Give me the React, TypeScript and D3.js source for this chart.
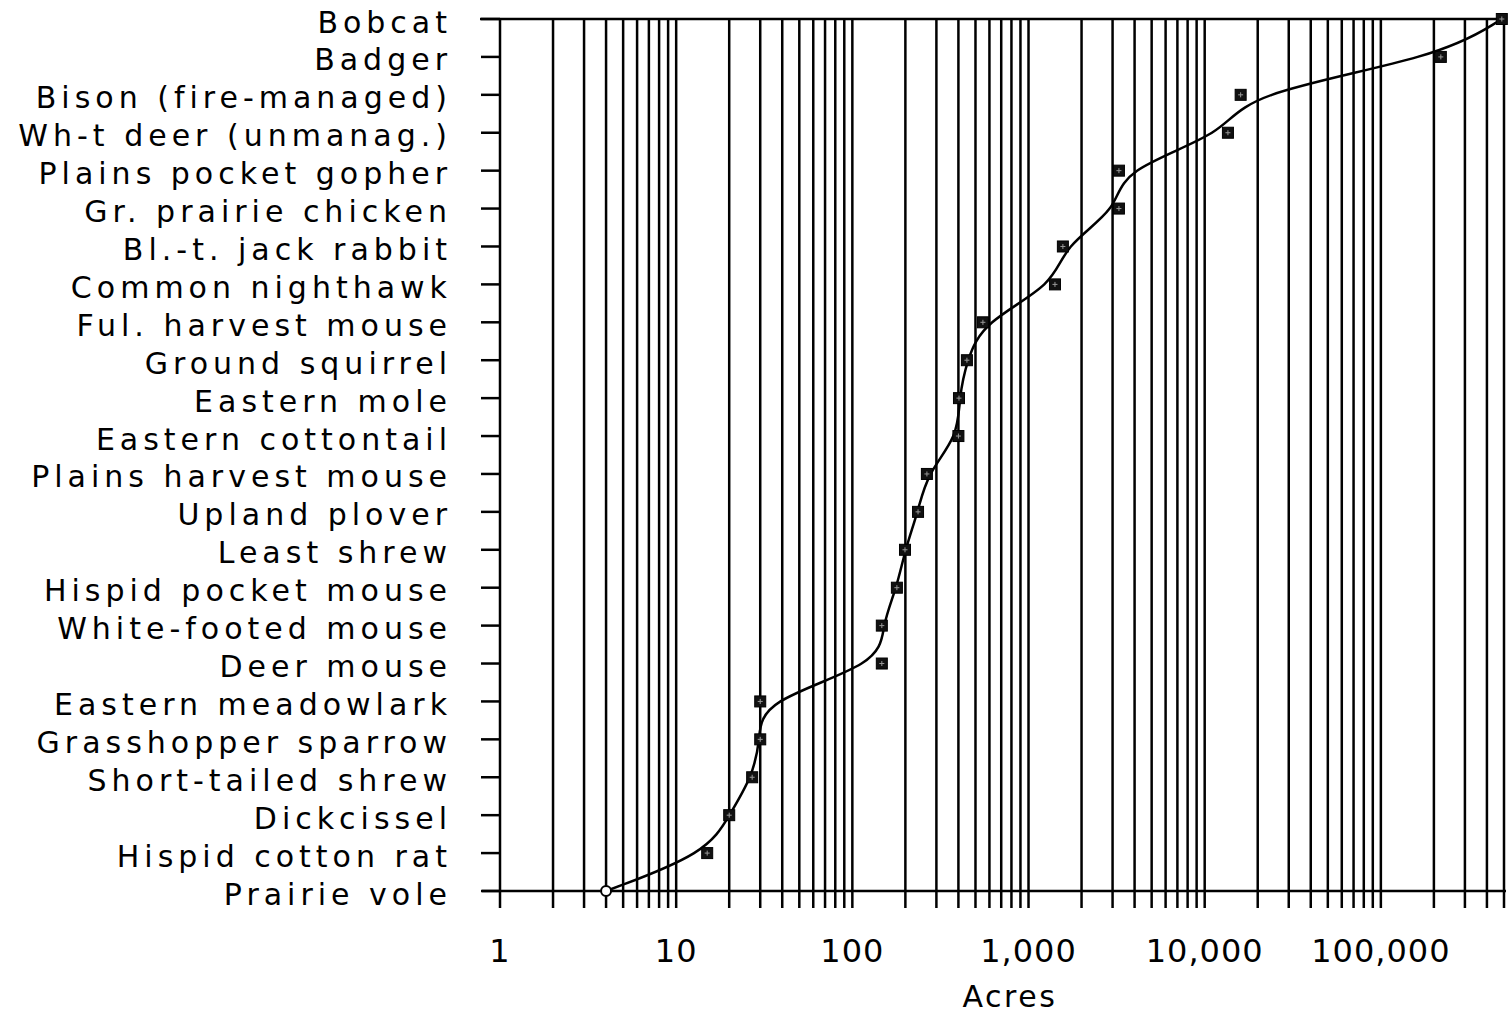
import React, { useEffect, useRef } from 'react';
import * as d3 from 'd3';

// species, bottom to top
const species = [
  'Prairie vole',
  'Hispid cotton rat',
  'Dickcissel',
  'Short-tailed shrew',
  'Grasshopper sparrow',
  'Eastern meadowlark',
  'Deer mouse',
  'White-footed mouse',
  'Hispid pocket mouse',
  'Least shrew',
  'Upland plover',
  'Plains harvest mouse',
  'Eastern cottontail',
  'Eastern mole',
  'Ground squirrel',
  'Ful. harvest mouse',
  'Common nighthawk',
  'Bl.-t. jack rabbit',
  'Gr. prairie chicken',
  'Plains pocket gopher',
  'Wh-t deer (unmanag.)',
  'Bison (fire-managed)',
  'Badger',
  'Bobcat',
];

// minimum area, acres
const acres = [
  4, 15, 20, 27, 30, 30, 147, 147, 179, 199, 236, 265, 400, 403, 447, 551, 1413, 1567, 3260, 3260,
  13550, 16000, 219000, 486000,
];

const majorTicks = [1, 10, 100, 1000, 10000, 100000];
const tickLabels = ['1', '10', '100', '1,000', '10,000', '100,000'];

const W = 1511;
const H = 1017;
const FONT = '"DejaVu Sans", sans-serif';

const App: React.FC = () => {
  const svgRef = useRef<SVGSVGElement>(null);

  useEffect(() => {
    if (!svgRef.current) return;
    const svg = d3.select(svgRef.current);
    svg.selectAll('*').remove();

    const left = 500;
    const right = 1504;
    const top = 19;
    const bottom = 891;

    const x = d3.scaleLog().domain([1, 500000]).range([left, right]);
    const y = d3.scalePoint<string>().domain(species).range([bottom, top]);

    // every 1..9 x 10^k line up to the end of the domain
    const minor: number[] = [];
    for (let k = 0; k < 6; k++) {
      for (let m = 1; m <= 9; m++) {
        const v = m * Math.pow(10, k);
        if (v <= 500000) minor.push(v);
      }
    }

    const g = svg.append('g').attr('stroke', '#000').attr('stroke-width', 2.5);

    g.selectAll('line.grid')
      .data(minor)
      .join('line')
      .attr('class', 'grid')
      .attr('x1', (d) => x(d))
      .attr('x2', (d) => x(d))
      .attr('y1', top)
      .attr('y2', bottom + 17);

    // top and bottom frame lines
    g.append('line').attr('x1', 480).attr('x2', right + 2).attr('y1', top).attr('y2', top);
    g.append('line').attr('x1', 482).attr('x2', right + 2).attr('y1', bottom).attr('y2', bottom);

    // y ticks
    g.selectAll('line.ytick')
      .data(species)
      .join('line')
      .attr('class', 'ytick')
      .attr('x1', 481)
      .attr('x2', left)
      .attr('y1', (d) => y(d)!)
      .attr('y2', (d) => y(d)!);

    svg
      .append('g')
      .selectAll('text')
      .data(species)
      .join('text')
      .attr('x', 447 + 5)
      .attr('y', (d) => y(d)!)
      .attr('dy', '0.45em')
      .attr('text-anchor', 'end')
      .attr('font-family', FONT)
      .attr('font-size', 30)
      .attr('letter-spacing', 5)
      .attr('fill', '#000')
      .text((d) => d);

    svg
      .append('g')
      .selectAll('text')
      .data(majorTicks)
      .join('text')
      .attr('x', (d) => x(d))
      .attr('y', 962)
      .attr('text-anchor', 'middle')
      .attr('font-family', FONT)
      .attr('font-size', 32)
      .attr('letter-spacing', 1)
      .attr('fill', '#000')
      .text((d, i) => tickLabels[i]);

    svg
      .append('text')
      .attr('x', 1010)
      .attr('y', 1007)
      .attr('text-anchor', 'middle')
      .attr('font-family', FONT)
      .attr('font-size', 30)
      .attr('letter-spacing', 2.5)
      .attr('fill', '#000')
      .text('Acres');

    const pts: [number, number][] = species.map((s, i) => [x(acres[i]), y(s)!]);

    svg
      .append('path')
      .attr('d', d3.line().curve(d3.curveBasis)(pts))
      .attr('fill', 'none')
      .attr('stroke', '#000')
      .attr('stroke-width', 2.5);

    const marks = svg.append('g');
    pts.forEach(([px, py], i) => {
      if (i === 0) {
        marks
          .append('circle')
          .attr('cx', px)
          .attr('cy', py)
          .attr('r', 5)
          .attr('fill', '#fff')
          .attr('stroke', '#000')
          .attr('stroke-width', 2);
        return;
      }
      marks
        .append('rect')
        .attr('x', px - 5.5)
        .attr('y', py - 5.5)
        .attr('width', 11)
        .attr('height', 11)
        .attr('fill', '#111')
        .attr('stroke', '#000')
        .attr('stroke-width', 1);
      marks
        .append('path')
        .attr('d', `M${px - 2.5},${py}H${px + 2.5}M${px},${py - 2.5}V${py + 2.5}`)
        .attr('stroke', '#999')
        .attr('stroke-width', 1);
    });
  }, []);

  return (
    <svg
      ref={svgRef}
      width={W}
      height={H}
      style={{ position: 'absolute', left: 0, top: 0, background: '#fff' }}
    />
  );
};

export default App;
